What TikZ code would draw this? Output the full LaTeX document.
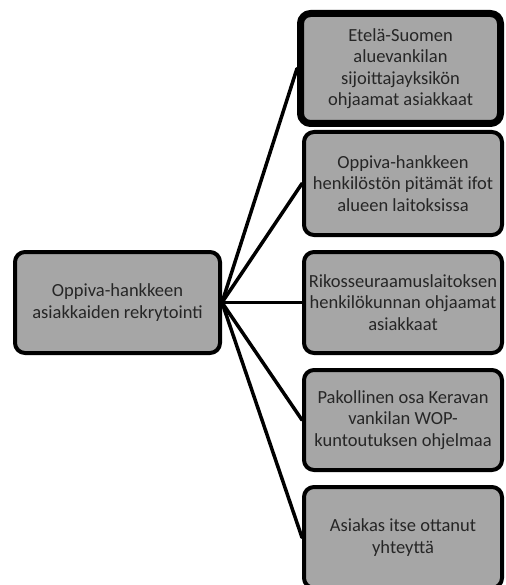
\documentclass[tikz,border=0pt]{standalone}
\usepackage{fontspec}
\setmainfont{Carlito}
\definecolor{boxgray}{HTML}{A6A6A6}
\definecolor{txtgray}{HTML}{262626}
\tikzset{
  box/.style={draw=black, line width=4pt, fill=boxgray, rounded corners=10pt,
    text=txtgray, align=center, inner sep=0pt,
    font=\fontsize{18.5}{21.5}\selectfont},
  link/.style={draw=black, line width=3.5pt, line cap=round}
}
\begin{document}
\begin{tikzpicture}[x=1pt, y=-1pt, line join=round]
  \useasboundingbox (0,0) rectangle (505,585);
  \clip (0,0) rectangle (505,585);
  % left box
  \node[box, minimum width=205pt, minimum height=101pt] (root) at (117.5,302.5)
    {Oppiva-hankkeen\\asiakkaiden rekrytointi};
  % right boxes
  \node[box, line width=7pt, minimum width=200pt, minimum height=110pt] (etela) at (400.5,68.5)
    {Etelä-Suomen\\aluevankilan\\sijoittajayksikön\\ohjaamat asiakkaat};
  \node[box, minimum width=198pt, minimum height=103pt] (ifot) at (403,183.5)
    {Oppiva-hankkeen\\henkilöstön pitämät ifot\\alueen laitoksissa};
  \node[box, minimum width=198pt, minimum height=101pt] (rise) at (403,302.5)
    {Rikosseuraamuslaitoksen\\henkilökunnan ohjaamat\\asiakkaat};
  \node[box, minimum width=198pt, minimum height=100pt] (wop) at (403,420)
    {Pakollinen osa Keravan\\vankilan WOP-\\kuntoutuksen ohjelmaa};
  \node[box, minimum width=198pt, minimum height=101pt] (itse) at (403,537.5)
    {Asiakas itse ottanut\\yhteyttä};
  % connectors
  \foreach \t in {etela,ifot,rise,wop,itse}
    \draw[link] (root.east) -- (\t.west);
\end{tikzpicture}
\end{document}
